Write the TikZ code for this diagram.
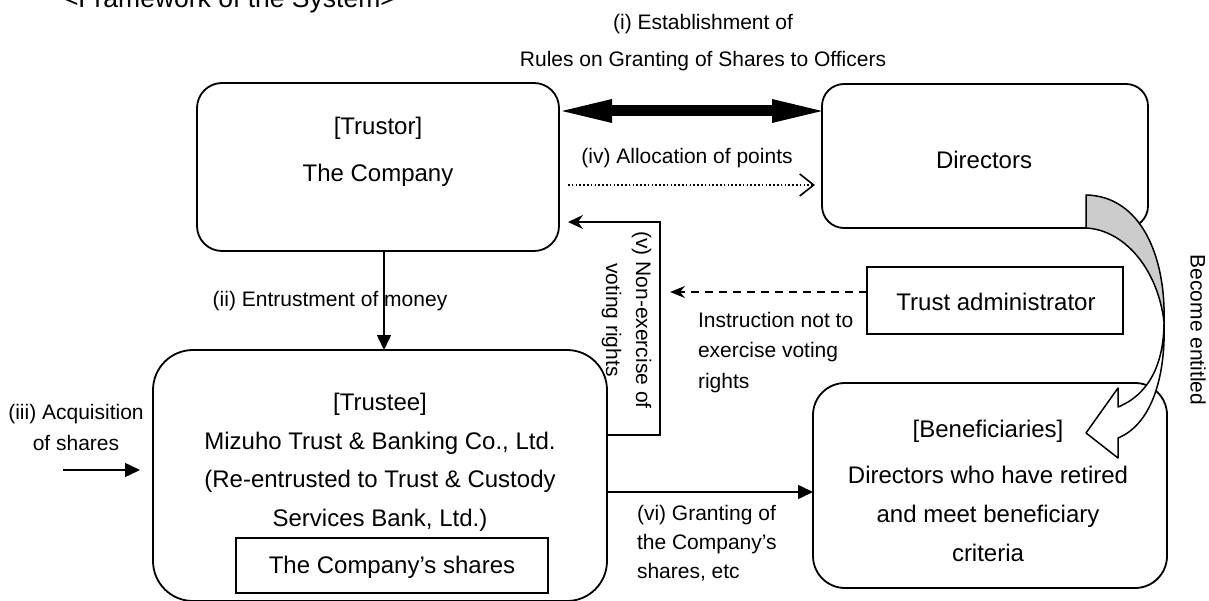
\documentclass[tikz,border=0pt]{standalone}
\usepackage{fontspec}
\setmainfont{Liberation Sans}
\usetikzlibrary{arrows.meta,calc}
\begin{document}
\begin{tikzpicture}[x=1pt,y=-1pt,
  boxline/.style={draw, line width=1.8pt, inner sep=0pt, outer sep=0pt, fill=white},
  conn/.style={line width=1.5pt},
  tri/.style={-{Triangle[length=15pt,width=14pt]}},
  stl/.style={-{Stealth[length=15pt,width=14pt,inset=5pt]}},
  lbl/.style={inner sep=0pt, outer sep=0pt},
  bigtip/.style={{Triangle[length=50pt,width=24pt,line width=0pt]}-{Triangle[length=50pt,width=24pt,line width=0pt]}},
]
\useasboundingbox (0,0) rectangle (1209,601);

% boxes
\node[boxline, rounded corners=25pt, minimum width=362pt, minimum height=168pt] (trustor) at (378,167) {};
\node[boxline, rounded corners=22pt, minimum width=326pt, minimum height=144pt] (directors) at (985,156) {};
\node[boxline, minimum width=256pt, minimum height=67pt] (trustadmin) at (995,300.5) {};
\node[boxline, rounded corners=40pt, minimum width=454pt, minimum height=251pt] (trustee) at (380,475.5) {};
\node[boxline, minimum width=312pt, minimum height=55pt] (shares) at (392,565.5) {};
\node[boxline, rounded corners=32pt, minimum width=354pt, minimum height=205pt] (beneficiaries) at (990,485.5) {};

% connectors
\draw[line width=11pt, bigtip] ($(trustor.north east)+(3,28)$) -- ($(directors.north west)+(0,27)$);
\draw[line width=1.6pt, dash pattern=on 1.6pt off 2.2pt, -{Straight Barb[length=14pt,width=22pt,line width=1.6pt]}]
  ($(trustor.north east)+(9,102)$) -- ($(directors.north west)+(-7,101)$);
\coordinate (mtop) at ($(trustor.south)+(6,0)$);
\draw[conn, tri] (mtop) -- (mtop |- trustee.north);
\coordinate (vstart) at ($(trustee.north east)+(0,85)$);
\coordinate (vcorner) at (660,222);
\draw[conn, stl] (vstart) -| (vcorner) -- ($(vcorner -| trustor.east)+(9,0)$);
\coordinate (dstart) at ($(trustadmin.north west)+(0,25)$);
\draw[conn, dash pattern=on 8pt off 6pt, -{Stealth[length=15pt,width=12pt,inset=5pt]}] (dstart) -- ($(dstart -| vcorner)+(10,0)$);
\coordinate (vistart) at ($(trustee.north east)+(0,142)$);
\draw[conn, tri] (vistart) -- (vistart -| beneficiaries.west);
\coordinate (iiistart) at (63,470);
\draw[conn, tri] (iiistart) -- ($(iiistart -| trustee.west)+(-13,0)$);

% curved block arrow (Become entitled)
\coordinate (cx) at (1164,322);
\filldraw[fill=black!20, line width=1.5pt, line join=round]
  (1086,195) .. controls (1140,196) and (1166,255) .. (cx)
  .. controls (1158,270) and (1125,230) .. (1086,228) -- cycle;
\filldraw[fill=white, line width=1.5pt, line join=round]
  (cx) .. controls (1164,365) and (1148,395) .. (1118,407)
  -- (1118,388) -- (1086,433) -- (1118,458) -- (1118,438)
  .. controls (1150,425) and (1166,380) .. (cx) -- cycle;

% texts
\node[lbl, anchor=base west, font=\fontsize{26.5}{30}\selectfont] (title) at (63,8) {<Framework of the System>};
\node[lbl, align=center, font=\fontsize{21}{37}\selectfont] (rules) at (703,43) {(i) Establishment of\\Rules on Granting of Shares to Officers};
\node[lbl, align=center, font=\fontsize{24}{47}\selectfont] (trustortxt) at (378,152) {[Trustor]\\The Company};
\node[lbl, anchor=base, font=\fontsize{24}{28}\selectfont] (directorstxt) at (984,168.5) {Directors};
\node[lbl, anchor=base, font=\fontsize{21}{25}\selectfont] (allocation) at (687,164) {(iv) Allocation of points};
\node[lbl, anchor=base, font=\fontsize{21}{25}\selectfont] (entrust) at (330,307) {(ii) Entrustment of money};
\node[lbl, align=center, rotate=-90, font=\fontsize{21}{30}\selectfont] (nonex) at (626.5,320) {(v) Non-exercise of\\voting rights};
\node[lbl, anchor=base, font=\fontsize{24}{28}\selectfont] (trustadmintxt) at (996,311) {Trust administrator};
\node[lbl, anchor=west, align=left, font=\fontsize{21}{30.5}\selectfont] (instruction) at (698,352.2) {Instruction not to\\exercise voting\\rights};
\node[lbl, rotate=-90, font=\fontsize{21}{25}\selectfont] (entitled) at (1198,330) {Become entitled};
\node[lbl, align=center, font=\fontsize{21}{31}\selectfont] (acq) at (76,427) {(iii) Acquisition\\of shares};
\node[lbl, align=center, font=\fontsize{24}{38.67}\selectfont] (trusteetxt) at (380,462.3) {[Trustee]\\Mizuho Trust \& Banking Co., Ltd.\\(Re-entrusted to Trust \& Custody\\Services Bank, Ltd.)};
\node[lbl, anchor=base, font=\fontsize{24}{28}\selectfont] (sharestxt) at (392,573.5) {The Company’s shares};
\node[lbl, align=center, font=\fontsize{24}{39}\selectfont] (benefictxt) at (988,490.8) {[Beneficiaries]\\[7pt]Directors who have retired\\and meet beneficiary\\criteria};
\node[lbl, anchor=west, align=left, font=\fontsize{21}{29}\selectfont] (granting) at (637,542.9) {(vi) Granting of\\the Company’s\\shares, etc};
\end{tikzpicture}
\end{document}
